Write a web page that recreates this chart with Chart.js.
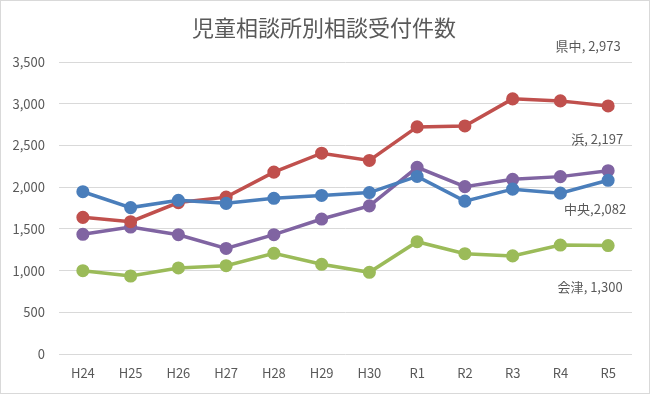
<!DOCTYPE html>
<html><head><meta charset="utf-8">
<script src="https://cdn.jsdelivr.net/npm/chart.js@4"></script>
<style>html,body{margin:0;padding:0;background:#fff}#wrap{width:650px;height:394px}</style>
</head><body><div id="wrap"><canvas id="c" width="650" height="394"></canvas></div>
<script>
const title = "児童相談所別相談受付件数";
const categories = ["H24","H25","H26","H27","H28","H29","H30","R1","R2","R3","R4","R5"];
const seriesNames = ["中央","県中","会津","浜"];
const chuo   = [1945,1755,1842,1806,1866,1900,1935,2128,1832,1976,1928,2082];
const kenchu = [1638,1586,1815,1880,2180,2407,2320,2722,2733,3058,3034,2973];
const aizu   = [ 998, 935,1031,1058,1207,1075, 979,1346,1202,1176,1306,1300];
const hama   = [1435,1522,1430,1265,1430,1618,1776,2238,2006,2094,2126,2197];
const yTicks = [0,500,1000,1500,2000,2500,3000,3500];

const colors = ["#4A7EBB","#C0504D","#9BBB59","#8064A2"];
const seps = [",",", ",", ",", "];
const labelOffsets = [[-13,29],[-20,-60],[-18,42],[-11,-32]];
const FONT = "'Noto Sans CJK JP', 'Noto Sans', sans-serif";
const values = [chuo,kenchu,aizu,hama];

const labelPlugin = {
  id:'lastLabels',
  beforeDraw(chart){
    const ctx = chart.ctx;
    ctx.save();
    ctx.fillStyle = '#fff';
    ctx.fillRect(0,0,chart.width,chart.height);
    ctx.strokeStyle = '#d9d9d9';
    ctx.lineWidth = 1;
    ctx.strokeRect(0.5,0.5,chart.width-1,chart.height-1);
    ctx.fillStyle = '#595959';
    ctx.font = "22px " + FONT;
    ctx.textAlign = 'center';
    ctx.textBaseline = 'middle';
    ctx.fillText(title, 324, 28);
    ctx.restore();
  },
  afterDatasetsDraw(chart){
    const ctx = chart.ctx;
    ctx.save();
    ctx.fillStyle = '#595959';
    ctx.font = "13px " + FONT;
    ctx.textAlign = 'center';
    ctx.textBaseline = 'middle';
    chart.data.datasets.forEach((ds,i)=>{
      const meta = chart.getDatasetMeta(i);
      const last = meta.data[meta.data.length-1];
      const v = ds.data[ds.data.length-1];
      const txt = ds.label + seps[i] + v.toLocaleString('en-US');
      ctx.fillText(txt, last.x + labelOffsets[i][0], last.y + labelOffsets[i][1]);
    });
    ctx.restore();
  }
};

new Chart(document.getElementById('c'), {
  type:'line',
  data:{
    labels: categories,
    datasets: seriesNames.map((n,i)=>({
      label:n, data: values[i],
      borderColor: colors[i], backgroundColor: colors[i],
      pointBackgroundColor: colors[i], pointBorderColor: colors[i],
      borderWidth: 3.5, pointRadius: 4.8, pointHoverRadius: 4.8, tension: 0
    }))
  },
  options:{
    responsive:false, animation:false,
    layout:{padding:{left:0,right:18,top:62,bottom:0}},
    plugins:{legend:{display:false}, title:{display:false}, tooltip:{enabled:false}},
    scales:{
      x:{
        offset:true,
        grid:{display:false, drawTicks:false},
        border:{display:false},
        ticks:{color:'#595959', font:{family:FONT, size:13}, padding:11, maxRotation:0, autoSkip:false},
        afterFit(s){ s.height = 40; }
      },
      y:{
        min:0, max:3500,
        afterBuildTicks(s){ s.ticks = yTicks.map(v=>({value:v})); },
        grid:{color:'#d9d9d9', drawTicks:false, lineWidth:1},
        border:{display:false},
        ticks:{color:'#595959', font:{family:FONT, size:13}, padding:14,
          callback:v=>v.toLocaleString('en-US')},
        afterFit(s){ s.width = 59; }
      }
    }
  },
  plugins:[labelPlugin]
});
</script></body></html>
